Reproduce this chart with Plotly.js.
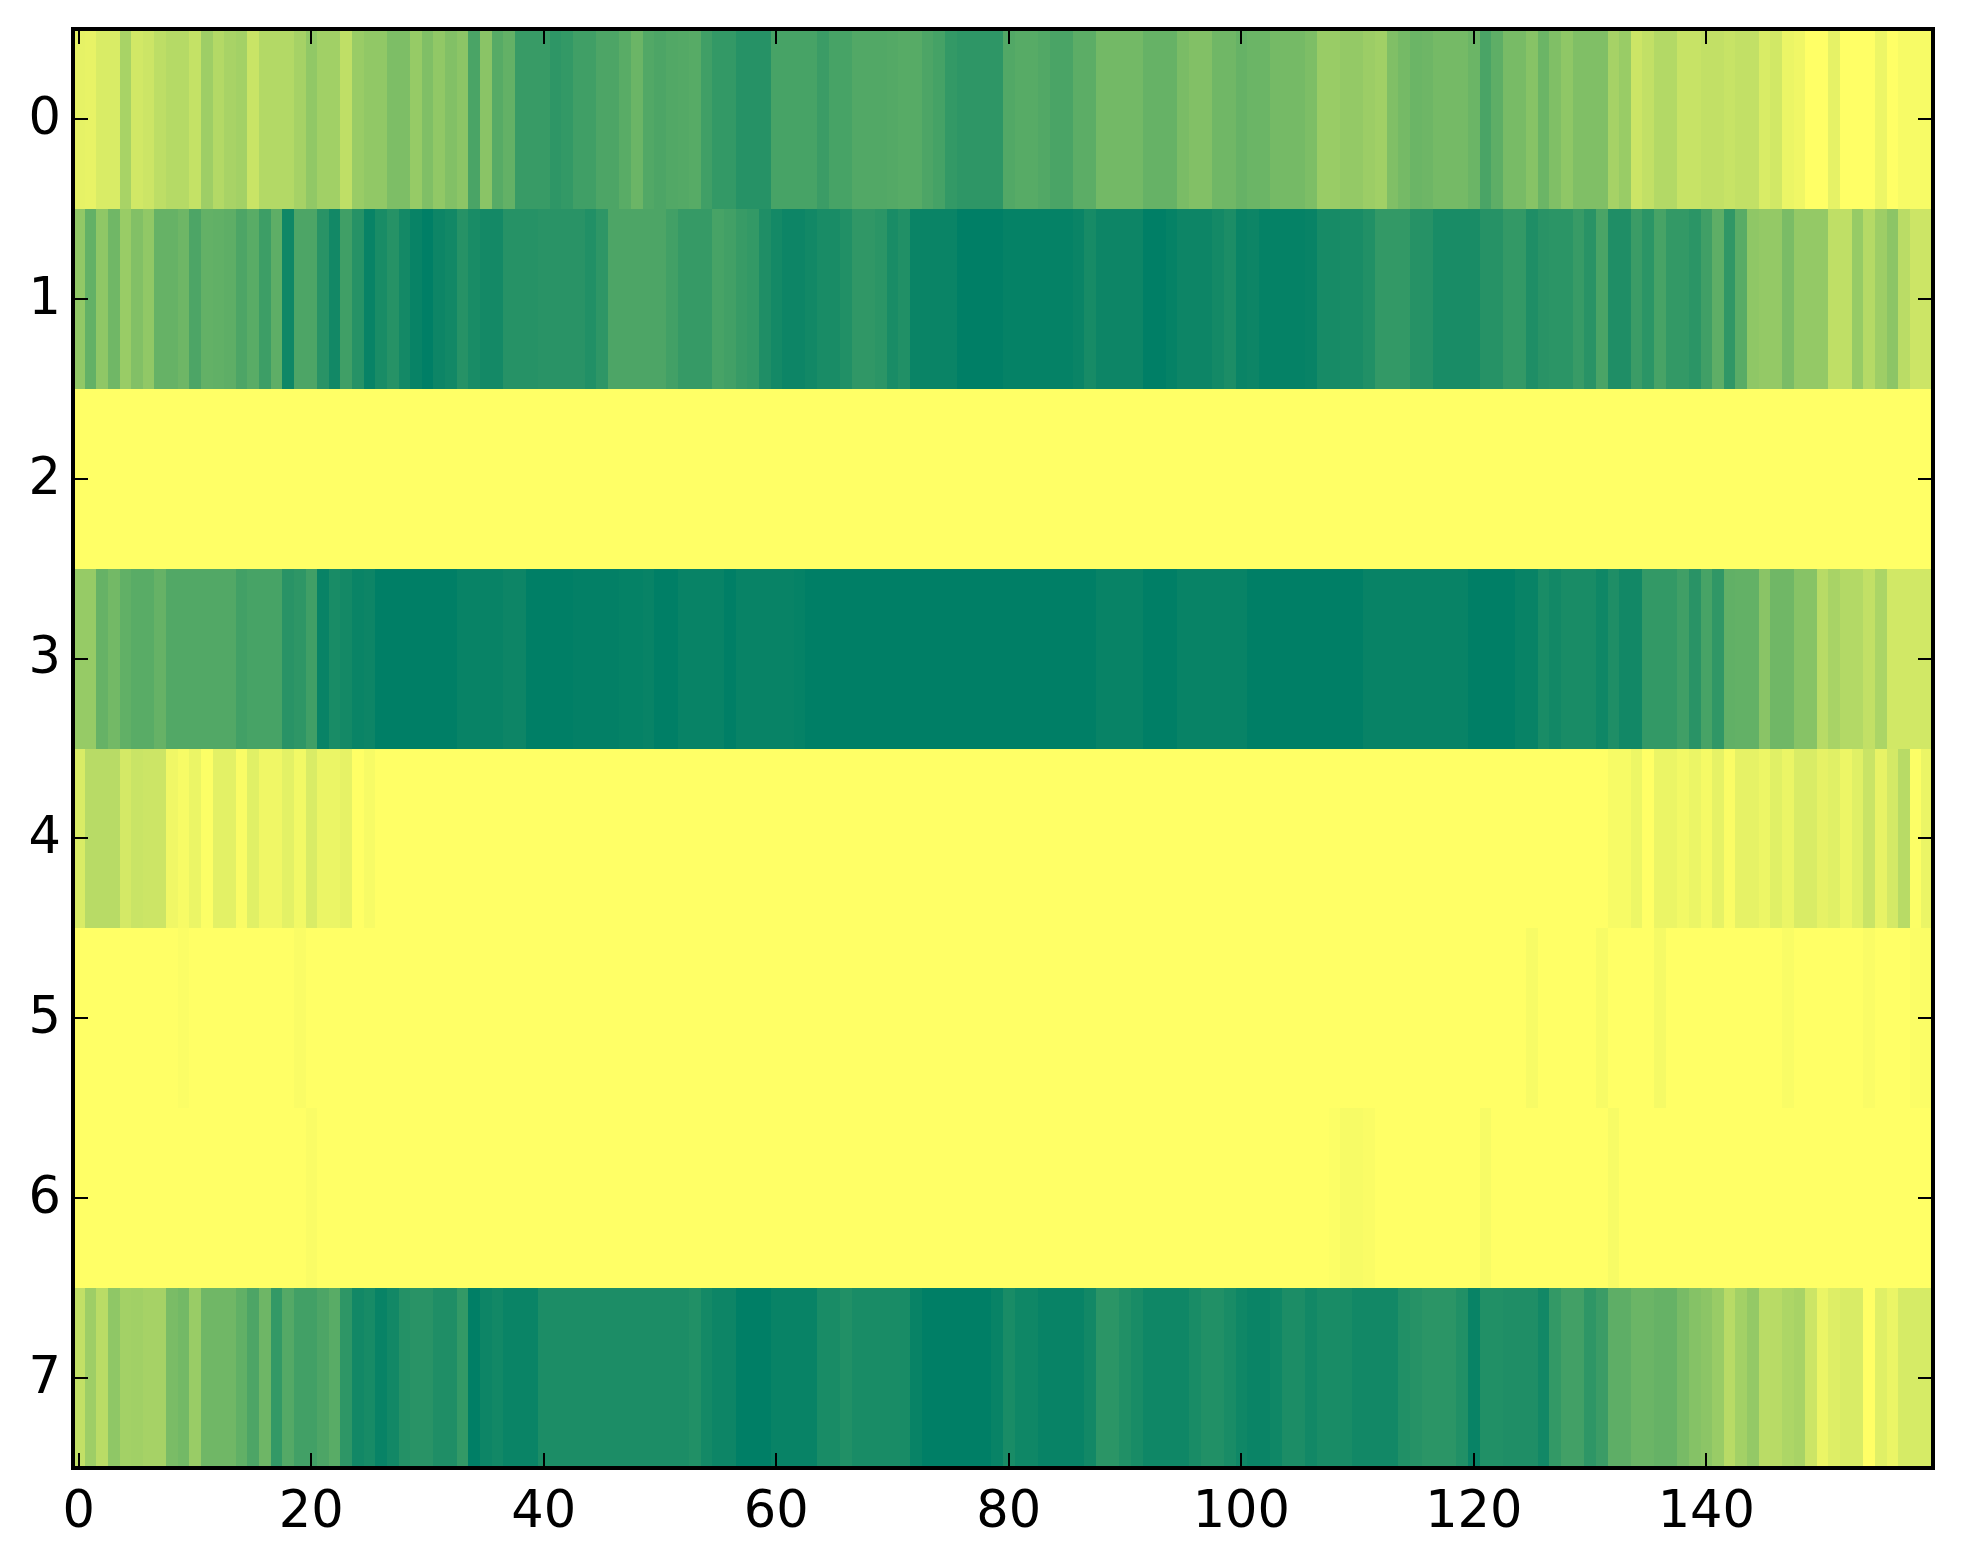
<!DOCTYPE html>
<html>
<head>
<meta charset="utf-8">
<script src="https://cdn.plot.ly/plotly-3.0.1.min.js"></script>
<style>html,body{margin:0;padding:0;background:#fff}#chart{width:1963px;height:1564px}</style>
</head>
<body>
<div id="chart"></div>
<script>
const rowLabels = [0,1,2,3,4,5,6,7];
const columnLabels = [
0,1,2,3,4,5,6,7,8,9,10,11,12,13,14,15,16,17,18,19,20,21,22,23,24,25,26,27,28,29,30,31,32,33,34,35,36,37,38,39,
40,41,42,43,44,45,46,47,48,49,50,51,52,53,54,55,56,57,58,59,60,61,62,63,64,65,66,67,68,69,70,71,72,73,74,75,76,77,78,79,
80,81,82,83,84,85,86,87,88,89,90,91,92,93,94,95,96,97,98,99,100,101,102,103,104,105,106,107,108,109,110,111,112,113,114,115,116,117,118,119,
120,121,122,123,124,125,126,127,128,129,130,131,132,133,134,135,136,137,138,139,140,141,142,143,144,145,146,147,148,149,150,151,152,153,154,155,156,157,158,159];
const xTickValues = [0,20,40,60,80,100,120,140];

const row0 = [
.10,.09,.15,.15,.34,.18,.20,.26,.29,.29,
.23,.38,.30,.34,.36,.21,.30,.30,.30,.35,
.43,.37,.37,.25,.40,.43,.43,.51,.51,.41,
.50,.43,.49,.45,.71,.46,.66,.61,.78,.78,
.78,.82,.80,.75,.75,.70,.70,.65,.58,.68,
.70,.68,.67,.66,.75,.80,.80,.85,.85,.85,
.72,.72,.72,.72,.77,.72,.72,.68,.68,.68,
.67,.66,.66,.70,.73,.80,.82,.82,.82,.82,
.68,.66,.66,.68,.71,.71,.64,.64,.55,.55,
.55,.55,.60,.60,.60,.52,.49,.49,.56,.56,
.60,.58,.58,.54,.54,.54,.51,.40,.40,.42,
.42,.39,.37,.50,.54,.58,.57,.54,.54,.54,
.58,.71,.63,.53,.53,.47,.58,.50,.44,.50,
.50,.50,.35,.40,.20,.24,.30,.30,.22,.22,
.24,.24,.22,.24,.24,.15,.18,.08,.06,0,
0,.10,0,0,0,.07,0,.03,.03,.03];

const row1 = [
.43,.61,.44,.56,.40,.49,.43,.60,.60,.57,
.70,.61,.62,.63,.70,.65,.76,.63,.94,.70,
.70,.84,.93,.75,.85,.97,.90,.85,.92,.97,
1,.95,.93,.85,.90,.92,.92,.85,.85,.85,
.84,.84,.84,.84,.87,.82,.70,.70,.70,.70,
.70,.74,.79,.79,.79,.72,.74,.78,.80,.88,
.92,.95,.95,.93,.90,.90,.87,.81,.81,.83,
.90,.87,.96,.96,.96,.96,1,1,1,1,
.98,.98,.98,.98,.98,.98,.96,.91,.95,.95,
.95,.95,1,1,.98,.95,.95,.95,.92,.89,
.96,.95,.98,.98,.98,.98,.97,.91,.91,.90,
.90,.87,.80,.80,.80,.85,.85,.90,.90,.90,
.90,.85,.85,.80,.80,.88,.84,.83,.83,.78,
.84,.71,.88,.88,.77,.83,.72,.80,.80,.83,
.75,.63,.81,.65,.44,.42,.42,.52,.42,.42,
.42,.25,.25,.41,.29,.38,.45,.27,.20,.20];

const row2 = [
0,0,0,0,0,0,0,0,0,0,0,0,0,0,0,0,0,0,0,0,0,0,0,0,0,0,0,0,0,0,0,0,0,0,0,0,0,0,0,0,
0,0,0,0,0,0,0,0,0,0,0,0,0,0,0,0,0,0,0,0,0,0,0,0,0,0,0,0,0,0,0,0,0,0,0,0,0,0,0,0,
0,0,0,0,0,0,0,0,0,0,0,0,0,0,0,0,0,0,0,0,0,0,0,0,0,0,0,0,0,0,0,0,0,0,0,0,0,0,0,0,
0,0,0,0,0,0,0,0,0,0,0,0,0,0,0,0,0,0,0,0,0,0,0,0,0,0,0,0,0,0,0,0,0,0,0,0,0,0,0,0];

const row3 = [
.41,.41,.60,.55,.62,.65,.65,.60,.68,.68,
.68,.68,.68,.68,.74,.72,.72,.72,.84,.82,
.75,.97,.90,.92,.96,.95,1,1,1,1,
1,1,1,.97,.97,.97,.97,.95,.95,1,
1,1,1,.99,.99,.99,.99,.98,.98,.97,
1,1,.97,.97,.97,.97,1,.97,.97,.97,
.97,.97,.98,1,1,1,1,1,1,1,
1,1,1,1,1,1,1,1,1,1,
1,1,1,1,1,1,1,1,.97,.97,
.97,.97,1,1,1,.97,.97,.97,.97,.97,
.97,1,1,1,1,1,1,1,1,1,
1,.97,.97,.97,.97,.97,.97,.97,.97,.97,
1,1,1,1,.97,.97,.90,.93,.90,.90,
.90,.94,.88,.93,.93,.80,.80,.80,.75,.84,
.72,.81,.62,.61,.61,.46,.56,.56,.47,.47,
.28,.34,.30,.30,.24,.33,.18,.18,.18,.18];

const row4 = [
.15,.28,.28,.28,.17,.21,.20,.20,.06,.03,
.08,.01,.11,.11,.02,.12,.06,.06,.11,.05,
.15,.08,.08,.10,0,.03,0,0,0,0,
0,0,0,0,0,0,0,0,0,0,0,0,0,0,0,0,0,0,0,0,0,0,0,0,0,0,0,0,0,0,
0,0,0,0,0,0,0,0,0,0,0,0,0,0,0,0,0,0,0,0,0,0,0,0,0,0,0,0,0,0,
0,0,0,0,0,0,0,0,0,0,0,0,0,0,0,0,0,0,0,0,0,0,0,0,0,0,0,0,0,0,
0,0,0,0,0,0,0,0,0,0,0,0,
.03,.03,.07,0,.08,.08,.05,.08,
.04,.10,.02,.10,.10,.07,.12,.08,.15,.15,
.10,.12,.07,.12,.21,.09,.17,.28,.01,.08];

const row5 = [
0,0,0,0,0,0,0,0,0,.015,0,0,0,0,0,0,0,0,0,.02,0,0,0,0,0,0,0,0,0,0,0,0,0,0,0,0,0,0,0,0,
0,0,0,0,0,0,0,0,0,0,0,0,0,0,0,0,0,0,0,0,0,0,0,0,0,0,0,0,0,0,0,0,0,0,0,0,0,0,0,0,
0,0,0,0,0,0,0,0,0,0,0,0,0,0,0,0,0,0,0,0,0,0,0,0,0,0,0,0,0,0,0,0,0,0,0,0,0,0,0,0,
0,0,0,0,0,.03,0,0,0,0,0,.03,0,0,0,0,.04,0,0,0,0,0,0,0,0,0,0,.025,0,0,0,0,0,0,.02,0,0,0,.015,.015];

const row6 = [
0,0,0,0,0,0,0,0,0,0,0,0,0,0,0,0,0,0,0,0,.02,0,0,0,0,0,0,0,0,0,0,0,0,0,0,0,0,0,0,0,
0,0,0,0,0,0,0,0,0,0,0,0,0,0,0,0,0,0,0,0,0,0,0,0,0,0,0,0,0,0,0,0,0,0,0,0,0,0,0,0,
0,0,0,0,0,0,0,0,0,0,0,0,0,0,0,0,0,0,0,0,0,0,0,0,0,0,0,0,.01,.03,.03,.02,0,0,0,0,0,0,0,0,
0,.03,0,0,0,0,0,0,0,0,0,0,.03,0,0,0,0,0,0,0,0,0,0,0,0,0,0,0,0,0,0,0,0,0,0,0,0,0,0,0];

const row7 = [
.24,.38,.27,.44,.36,.37,.35,.35,.52,.55,
.40,.56,.56,.56,.62,.70,.57,.80,.67,.74,
.74,.70,.65,.82,.93,.91,.97,.93,.86,.84,
.84,.88,.88,.80,1,.95,.93,.96,.96,.96,
.89,.89,.89,.89,.89,.89,.89,.89,.89,.89,
.89,.89,.89,.87,.92,.95,.95,1,1,1,
.97,.97,.97,.97,.90,.90,.87,.90,.90,.90,
.90,.90,.97,1,1,1,1,1,1,.97,
.90,.94,.94,.97,.97,.97,.97,.93,.83,.83,
.87,.90,.94,.94,.94,.94,.90,.87,.87,.90,
.94,.96,.96,.94,.89,.89,.93,.90,.90,.90,
.93,.93,.93,.93,.87,.85,.83,.83,.83,.87,
.97,.87,.87,.88,.88,.88,.93,.80,.74,.74,
.82,.77,.63,.63,.58,.58,.60,.60,.53,.48,
.45,.40,.28,.36,.42,.27,.28,.32,.34,.20,
.08,.13,.15,.15,0,.12,.08,.16,.16,.16];

const tickFont = {family: '"DejaVu Sans", sans-serif', size: 51, color: '#000'};
const axisCommon = {
  showgrid: false, zeroline: false, showline: false,
  ticks: 'inside', ticklen: 15, tickwidth: 2, tickcolor: '#000',
  mirror: 'ticks', tickfont: tickFont, tickmode: 'array', automargin: false
};

Plotly.newPlot('chart', [{
  type: 'heatmap',
  x: columnLabels,
  y: rowLabels,
  z: [row0,row1,row2,row3,row4,row5,row6,row7],
  zmin: 0, zmax: 1,
  colorscale: [[0,'#ffff66'],[1,'#007f66']],
  showscale: false,
  zsmooth: false
}], {
  width: 1963, height: 1564,
  margin: {l: 73, r: 30, t: 29, b: 96, pad: 0},
  paper_bgcolor: '#fff', plot_bgcolor: '#fff',
  showlegend: false,
  xaxis: Object.assign({}, axisCommon, {range: [-0.5,159.5], tickvals: xTickValues, ticktext: xTickValues.map(String), ticklabelstandoff: 7}),
  yaxis: Object.assign({}, axisCommon, {range: [7.5,-0.5], tickvals: rowLabels, ticktext: rowLabels.map(String), ticklabelstandoff: 11, ticklabelshift: 3}),
  shapes: [{type:'rect', xref:'paper', yref:'paper', x0:0, x1:1, y0:0, y1:1, line:{color:'#000', width:4}, fillcolor:'rgba(0,0,0,0)', layer:'above'}]
}, {displayModeBar: false, staticPlot: true});
</script>
</body>
</html>
